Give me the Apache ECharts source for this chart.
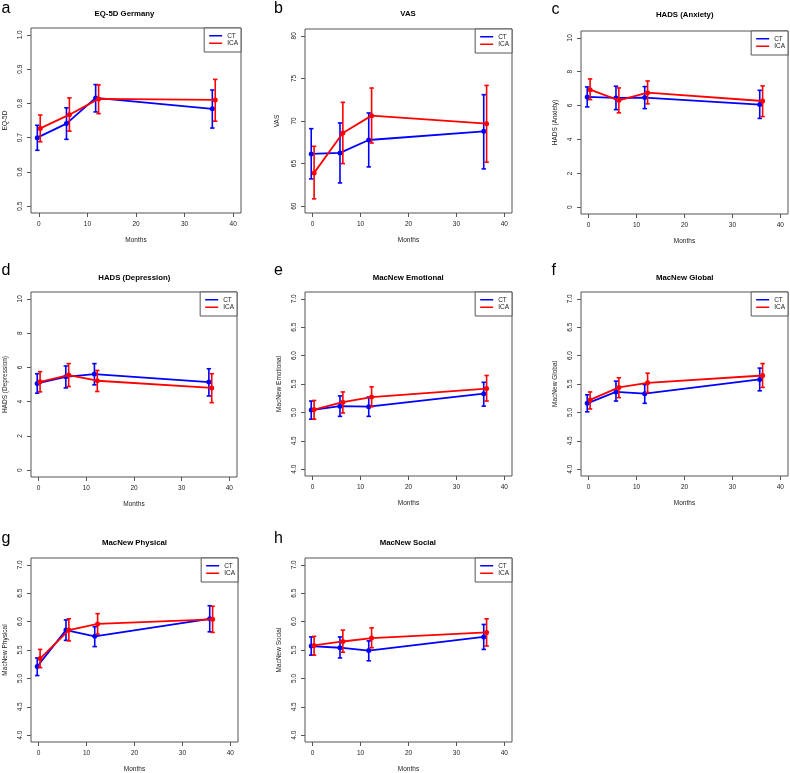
<!DOCTYPE html>
<html><head><meta charset="utf-8">
<script src="https://cdn.jsdelivr.net/npm/echarts@6/dist/echarts.min.js"></script>
<style>html,body{margin:0;padding:0;background:#fff}#c{width:790px;height:773px}</style>
</head><body><div id="c"></div>
<script>
// ---------- data ----------
const months = [0, 6, 12, 36];
const monthTicks = [0, 10, 20, 30, 40];

const eq5dTicks = [0.5, 0.6, 0.7, 0.8, 0.9, 1.0];
const vasTicks = [60, 65, 70, 75, 80];
const hadsTicks = [0, 2, 4, 6, 8, 10];
const macTicks = [4.0, 4.5, 5.0, 5.5, 6.0, 6.5, 7.0];

// a EQ-5D Germany
const eq5dCT = [0.700, 0.741, 0.816, 0.784];
const eq5dCTLo = [0.663, 0.695, 0.775, 0.728];
const eq5dCTHi = [0.736, 0.787, 0.855, 0.839];
const eq5dICA = [0.727, 0.767, 0.813, 0.810];
const eq5dICALo = [0.688, 0.719, 0.770, 0.748];
const eq5dICAHi = [0.766, 0.816, 0.854, 0.870];
// b VAS
const vasCT = [66.13, 66.25, 67.77, 68.79];
const vasCTLo = [63.2, 62.73, 64.61, 64.38];
const vasCTHi = [69.1, 69.77, 70.94, 73.09];
const vasICA = [63.91, 68.59, 70.63, 69.69];
const vasICALo = [60.86, 65.0, 67.42, 65.16];
const vasICAHi = [67.03, 72.19, 73.87, 74.18];
// c HADS (Anxiety)
const anxCT = [6.51, 6.45, 6.47, 6.06];
const anxCTLo = [5.92, 5.76, 5.82, 5.24];
const anxCTHi = [7.10, 7.14, 7.12, 6.90];
const anxICA = [6.94, 6.31, 6.76, 6.27];
const anxICALo = [6.35, 5.57, 6.10, 5.35];
const anxICAHi = [7.57, 7.04, 7.45, 7.16];
// d HADS (Depression)
const depCT = [5.06, 5.45, 5.61, 5.14];
const depCTLo = [4.49, 4.80, 4.98, 4.33];
const depCTHi = [5.63, 6.08, 6.22, 5.92];
const depICA = [5.16, 5.55, 5.22, 4.80];
const depICALo = [4.57, 4.88, 4.59, 3.94];
const depICAHi = [5.75, 6.22, 5.82, 5.63];
// e MacNew Emotional
const emoCT = [5.04, 5.11, 5.10, 5.33];
const emoCTLo = [4.88, 4.93, 4.93, 5.11];
const emoCTHi = [5.20, 5.29, 5.27, 5.53];
const emoICA = [5.05, 5.18, 5.27, 5.42];
const emoICALo = [4.88, 4.99, 5.10, 5.20];
const emoICAHi = [5.21, 5.36, 5.45, 5.65];
// f MacNew Global
const gloCT = [5.16, 5.36, 5.33, 5.58];
const gloCTLo = [5.01, 5.20, 5.16, 5.38];
const gloCTHi = [5.31, 5.55, 5.49, 5.78];
const gloICA = [5.22, 5.44, 5.52, 5.65];
const gloICALo = [5.06, 5.26, 5.35, 5.44];
const gloICAHi = [5.36, 5.61, 5.69, 5.86];
// g MacNew Physical
const phyCT = [5.21, 5.85, 5.74, 6.05];
const phyCTLo = [5.05, 5.67, 5.56, 5.82];
const phyCTHi = [5.36, 6.03, 5.91, 6.28];
const phyICA = [5.35, 5.85, 5.96, 6.04];
const phyICALo = [5.19, 5.66, 5.78, 5.81];
const phyICAHi = [5.51, 6.05, 6.14, 6.27];
// h MacNew Social
const socCT = [5.57, 5.54, 5.49, 5.73];
const socCTLo = [5.41, 5.36, 5.31, 5.51];
const socCTHi = [5.73, 5.73, 5.66, 5.95];
const socICA = [5.58, 5.65, 5.71, 5.81];
const socICALo = [5.41, 5.46, 5.54, 5.57];
const socICAHi = [5.74, 5.85, 5.89, 6.05];

const panels = [
  {letter:'a', title:'EQ-5D Germany', ylab:'EQ-5D', ticks:eq5dTicks, dec:1, ct:[eq5dCT,eq5dCTLo,eq5dCTHi], ica:[eq5dICA,eq5dICALo,eq5dICAHi]},
  {letter:'b', title:'VAS', ylab:'VAS', ticks:vasTicks, dec:0, ct:[vasCT,vasCTLo,vasCTHi], ica:[vasICA,vasICALo,vasICAHi]},
  {letter:'c', title:'HADS (Anxiety)', ylab:'HADS (Anxiety)', ticks:hadsTicks, dec:0, ct:[anxCT,anxCTLo,anxCTHi], ica:[anxICA,anxICALo,anxICAHi]},
  {letter:'d', title:'HADS (Depression)', ylab:'HADS (Depression)', ticks:hadsTicks, dec:0, ct:[depCT,depCTLo,depCTHi], ica:[depICA,depICALo,depICAHi]},
  {letter:'e', title:'MacNew Emotional', ylab:'MacNew Emotional', ticks:macTicks, dec:1, ct:[emoCT,emoCTLo,emoCTHi], ica:[emoICA,emoICALo,emoICAHi]},
  {letter:'f', title:'MacNew Global', ylab:'MacNew Global', ticks:macTicks, dec:1, ct:[gloCT,gloCTLo,gloCTHi], ica:[gloICA,gloICALo,gloICAHi]},
  {letter:'g', title:'MacNew Physical', ylab:'MacNew Physical', ticks:macTicks, dec:1, ct:[phyCT,phyCTLo,phyCTHi], ica:[phyICA,phyICALo,phyICAHi]},
  {letter:'h', title:'MacNew Social', ylab:'MacNew Social', ticks:macTicks, dec:1, ct:[socCT,socCTLo,socCTHi], ica:[socICA,socICALo,socICAHi]}
];

// ---------- layout / style ----------
const layout = [
  {grid:[31,28,210,185],  title:[124.5,14],  letter:[1.5,8.5],   ygap:22.5},
  {grid:[305,29,207,184], title:[408,14],    letter:[274,8.5],   ygap:24.5},
  {grid:[581,31,207,183], title:[684.7,15],  letter:[551.5,9.2], ygap:22.5},
  {grid:[31,292,206,185], title:[134.3,277.7], letter:[1.5,270.9], ygap:22.5},
  {grid:[305,292,207,184],title:[408.2,277.7], letter:[274,270.9], ygap:22.5},
  {grid:[581,292,207,184],title:[684.7,277.7], letter:[551.5,270.9], ygap:22.5},
  {grid:[31,558,207,184], title:[134.5,543.3], letter:[1.5,538.3], ygap:22.5},
  {grid:[305,558,207,184],title:[407.8,543.3], letter:[274,538.5], ygap:22.5}
];
const FONT = 'Liberation Sans, Arial, sans-serif';
const BLUE = '#0000ff', RED = '#ff0000';
const FRAME = '#555';
const TXT = '#222';
const DODGE = 0.3;
const FS = 6.5;

function padRange(t){ const a=t[0], b=t[t.length-1], r=(b-a)*0.04; return [a-r, b+r]; }

function errRender(color){
  return function(params, api){
    const x = api.value(0), lo = api.value(1), hi = api.value(2);
    const p1 = api.coord([x, lo]), p2 = api.coord([x, hi]);
    const w = 2.2;
    const st = {stroke: color, lineWidth: 1.6};
    return {type:'group', children:[
      {type:'line', shape:{x1:p1[0],y1:p1[1],x2:p2[0],y2:p2[1]}, style:st},
      {type:'line', shape:{x1:p1[0]-w,y1:p1[1],x2:p1[0]+w,y2:p1[1]}, style:st},
      {type:'line', shape:{x1:p2[0]-w,y1:p2[1],x2:p2[0]+w,y2:p2[1]}, style:st}
    ]};
  };
}

const grid=[], xAxis=[], yAxis=[], series=[], legend=[], graphic=[];
const xr = padRange(monthTicks);
panels.forEach((p,i)=>{
  const L = layout[i];
  const [gx,gy,gw,gh] = L.grid;
  grid.push({left:gx, top:gy, width:gw, height:gh, show:true, borderColor:FRAME, borderWidth:1, backgroundColor:'transparent', containLabel:false, outerBoundsMode:'none'});
  xAxis.push({type:'value', gridIndex:i, min:xr[0], max:xr[1], position:'bottom',
    axisLine:{show:false, onZero:false}, splitLine:{show:false},
    axisTick:{show:true, customValues:monthTicks, length:4, lineStyle:{color:FRAME}},
    axisLabel:{customValues:monthTicks, margin:8, fontSize:FS, color:TXT, fontFamily:FONT},
    name:'Months', nameLocation:'middle', nameGap:23.5, nameTextStyle:{fontSize:FS, color:TXT, fontFamily:FONT}});
  const yr = padRange(p.ticks);
  yAxis.push({type:'value', gridIndex:i, min:yr[0], max:yr[1], position:'left',
    axisLine:{show:false, onZero:false}, splitLine:{show:false},
    axisTick:{show:true, customValues:p.ticks, length:4, lineStyle:{color:FRAME}},
    axisLabel:{customValues:p.ticks, rotate:90, margin:7.5, fontSize:FS, color:TXT, fontFamily:FONT, formatter:(v)=>Number(v).toFixed(p.dec)},
    name:p.ylab, nameLocation:'middle', nameGap:L.ygap, nameTextStyle:{fontSize:FS, color:TXT, fontFamily:FONT}});
  [['CT',p.ct,BLUE,-DODGE],['ICA',p.ica,RED,DODGE]].forEach(([nm,arr,col,off],k)=>{
    series.push({type:'line', name:nm, xAxisIndex:i, yAxisIndex:i, animation:false,
      data: months.map((m,j)=>[m+off, arr[0][j]]),
      symbol:'circle', symbolSize:5, showSymbol:true,
      lineStyle:{width:1.8, color:col}, itemStyle:{color:col}, z:2+k*2});
    series.push({type:'custom', name:nm+' CI', xAxisIndex:i, yAxisIndex:i, animation:false,
      data: months.map((m,j)=>[m+off, arr[1][j], arr[2][j]]),
      encode:{x:0, y:[1,2]}, renderItem: errRender(col), z:3+k*2});
  });
  legend.push({data:['CT','ICA'], orient:'vertical', right:790-(gx+gw), top:gy,
    icon:'rect', itemWidth:13, itemHeight:1.5, itemGap:0, padding:[4,3,5,5],
    backgroundColor:'#fff', borderColor:FRAME, borderWidth:1, borderRadius:0, selectedMode:false,
    textStyle:{fontSize:FS, color:TXT, fontFamily:FONT, lineHeight:7.5}});
  graphic.push({type:'text', x:L.title[0], y:L.title[1], style:{text:p.title, font:'bold 7.8px '+FONT, fill:'#000', align:'center', verticalAlign:'middle', textAlign:'center', textVerticalAlign:'middle'}});
  graphic.push({type:'text', x:L.letter[0], y:L.letter[1], style:{text:p.letter, font:'16px '+FONT, fill:'#000', align:'left', verticalAlign:'middle', textAlign:'left', textVerticalAlign:'middle'}});
});

const chart = echarts.init(document.getElementById('c'), null, {renderer:'canvas'});
chart.setOption({animation:false, backgroundColor:'#fff', grid, xAxis, yAxis, series, legend, graphic});
</script>
</body></html>
